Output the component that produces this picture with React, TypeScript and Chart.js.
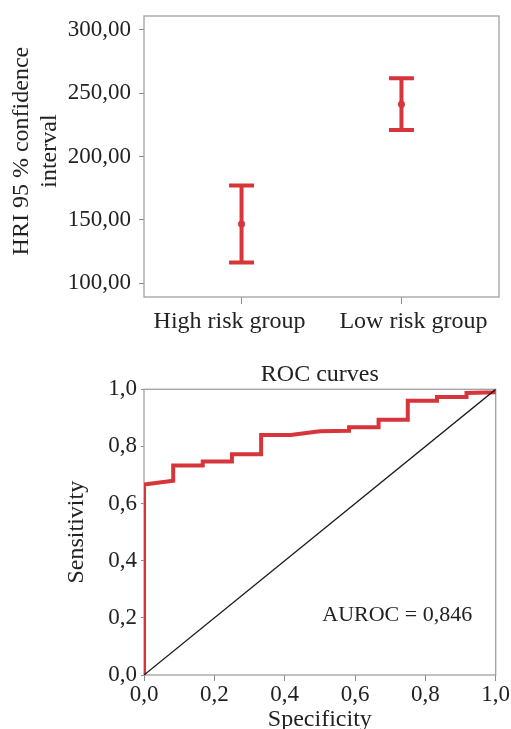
import React, { useEffect, useRef } from 'react';
import { Chart, registerables } from 'chart.js';

Chart.register(...registerables);

// ---- Data: HRI 95 % confidence interval ----
const groups = ['High risk group', 'Low risk group'];
const means = [146.8, 241.4];
const lowers = [116.4, 221.0];
const uppers = [177.2, 261.8];
const hriTicks = [100, 150, 200, 250, 300];

// ---- Data: ROC curve ----
const specificity = [0, 0, 0.083, 0.083, 0.167, 0.167, 0.25, 0.25, 0.333, 0.333, 0.417, 0.5, 0.583, 0.583, 0.667, 0.667, 0.75, 0.75, 0.833, 0.833, 0.917, 0.917, 1, 1];
const sensitivity = [0, 0.667, 0.68, 0.733, 0.733, 0.747, 0.747, 0.773, 0.773, 0.84, 0.84, 0.853, 0.855, 0.867, 0.867, 0.893, 0.893, 0.96, 0.96, 0.973, 0.973, 0.987, 0.99, 1];
const diagX = [0, 1];
const diagY = [0, 1];
const aurocText = 'AUROC = 0,846';
const aurocAnchor = { x: 0.72, y: 0.21 };

const SERIF = "'Liberation Serif', 'Times New Roman', serif";
const RED = '#d7353c';
const TEXT = '#222222';
const GRID = '#8c8c8c';
const FRAME = '#a0a0a0';
const NB = '\u00a0';

const framePlugin = {
  id: 'frame',
  beforeDatasetsDraw(chart: any) {
    const { ctx, chartArea: a } = chart;
    ctx.save();
    ctx.strokeStyle = FRAME;
    ctx.lineWidth = 1.3;
    ctx.strokeRect(a.left, a.top, a.right - a.left, a.bottom - a.top);
    ctx.restore();
  },
};

const errorBarPlugin = {
  id: 'errorBars',
  beforeDatasetsDraw(chart: any) {
    const { ctx, scales } = chart;
    const x = scales.x;
    const y = scales.y;
    ctx.save();
    ctx.strokeStyle = RED;
    ctx.lineWidth = 4;
    ctx.lineCap = 'butt';
    groups.forEach((_, i) => {
      const px = x.getPixelForValue(i);
      const top = y.getPixelForValue(uppers[i]);
      const bot = y.getPixelForValue(lowers[i]);
      const half = 12.5;
      ctx.beginPath();
      ctx.moveTo(px, top);
      ctx.lineTo(px, bot);
      ctx.moveTo(px - half, top);
      ctx.lineTo(px + half, top);
      ctx.moveTo(px - half, bot);
      ctx.lineTo(px + half, bot);
      ctx.stroke();
    });
    ctx.restore();
  },
};

const aurocPlugin = {
  id: 'auroc',
  afterDatasetsDraw(chart: any) {
    const { ctx, scales } = chart;
    ctx.save();
    ctx.fillStyle = TEXT;
    ctx.font = `22px ${SERIF}`;
    ctx.textAlign = 'center';
    ctx.textBaseline = 'middle';
    ctx.fillText(aurocText, scales.x.getPixelForValue(aurocAnchor.x), scales.y.getPixelForValue(aurocAnchor.y));
    ctx.restore();
  },
};

export default function App() {
  const ref1 = useRef<HTMLCanvasElement>(null);
  const ref2 = useRef<HTMLCanvasElement>(null);

  useEffect(() => {
    const c1 = new Chart(ref1.current as HTMLCanvasElement, {
      type: 'scatter',
      data: {
        datasets: [
          {
            data: groups.map((_, i) => ({ x: i, y: means[i] })),
            pointRadius: 3.5,
            backgroundColor: RED,
            borderWidth: 0,
            showLine: false,
          },
        ],
      },
      options: {
        responsive: true,
        maintainAspectRatio: false,
        animation: false,
        devicePixelRatio: 1,
        events: [],
        layout: { padding: { top: 16, right: 12, left: 0, bottom: 0 } },
        plugins: { legend: { display: false }, tooltip: { enabled: false } },
        scales: {
          x: {
            type: 'linear',
            min: -0.61,
            max: 1.61,
            afterBuildTicks: (s: any) => {
              s.ticks = groups.map((_, i) => ({ value: i }));
            },
            afterFit: (s: any) => {
              s.height = 48;
              s.paddingLeft = 0;
              s.paddingRight = 0;
            },
            ticks: {
              callback: (v: any) => {
                const i = Number(v);
                const pad = NB.repeat(4);
                return i === 0 ? groups[i] + pad : pad + groups[i];
              },
              font: { family: SERIF, size: 24 },
              color: TEXT,
              padding: 3,
              maxRotation: 0,
              autoSkip: false,
            },
            grid: { drawOnChartArea: false, drawTicks: true, tickLength: 7, color: GRID },
            border: { display: false },
          },
          y: {
            min: 89.2,
            max: 311,
            afterBuildTicks: (s: any) => {
              s.ticks = hriTicks.map((v) => ({ value: v }));
            },
            afterFit: (s: any) => {
              s.width = 144;
              s.paddingTop = 0;
              s.paddingBottom = 0;
            },
            ticks: {
              callback: (v: any) => Number(v).toFixed(2).replace('.', ','),
              font: { family: SERIF, size: 23 },
              color: TEXT,
              padding: 8,
            },
            grid: { drawOnChartArea: false, drawTicks: true, tickLength: 5, color: GRID },
            border: { display: false },
            title: {
              display: true,
              text: [NB + '\u2009HRI 95 % confidence', NB + '\u2009interval'],
              font: { family: SERIF, size: 24, lineHeight: 1.17 },
              color: TEXT,
              padding: { top: 8, bottom: 0 },
            },
          },
        },
      } as any,
      plugins: [framePlugin, errorBarPlugin],
    });

    const c2 = new Chart(ref2.current as HTMLCanvasElement, {
      type: 'scatter',
      data: {
        datasets: [
          {
            data: specificity.map((x, i) => ({ x, y: sensitivity[i] })),
            showLine: true,
            borderColor: RED,
            borderWidth: 4,
            pointRadius: 0,
            fill: false,
            tension: 0,
            order: 2,
          },
          {
            data: diagX.map((x, i) => ({ x, y: diagY[i] })),
            showLine: true,
            borderColor: '#1a1a1a',
            borderWidth: 1.3,
            pointRadius: 0,
            fill: false,
            order: 1,
          },
        ],
      },
      options: {
        responsive: true,
        maintainAspectRatio: false,
        animation: false,
        devicePixelRatio: 1,
        events: [],
        layout: { padding: { top: 0, right: 44.3, left: 0, bottom: 0 } },
        plugins: {
          legend: { display: false },
          tooltip: { enabled: false },
          title: {
            display: true,
            text: 'ROC curves',
            fullSize: false,
            font: { family: SERIF, size: 24, weight: 'normal', lineHeight: 1.15 },
            color: TEXT,
            padding: { top: 16, bottom: 0.7 },
          },
        },
        scales: {
          x: {
            type: 'linear',
            min: 0,
            max: 1,
            afterFit: (s: any) => {
              s.height = 70;
            },
            ticks: {
              stepSize: 0.2,
              callback: (v: any) => Number(v).toFixed(1).replace('.', ','),
              font: { family: SERIF, size: 23 },
              color: TEXT,
              padding: 0,
              maxRotation: 0,
            },
            grid: { drawOnChartArea: false, drawTicks: true, tickLength: 6, color: GRID },
            border: { display: false },
            title: {
              display: true,
              text: 'Specificity',
              font: { family: SERIF, size: 24, lineHeight: 1.1 },
              color: TEXT,
              padding: { top: 0, bottom: 12 },
            },
          },
          y: {
            min: 0,
            max: 1,
            afterFit: (s: any) => {
              s.width = 144;
            },
            ticks: {
              stepSize: 0.2,
              callback: (v: any) => Number(v).toFixed(1).replace('.', ','),
              font: { family: SERIF, size: 23 },
              color: TEXT,
              padding: 4,
            },
            grid: { drawOnChartArea: false, drawTicks: true, tickLength: 3, color: GRID },
            border: { display: false },
            title: {
              display: true,
              text: 'Sensitivity',
              font: { family: SERIF, size: 24, lineHeight: 1.1 },
              color: TEXT,
              padding: { top: 64, bottom: 0 },
            },
          },
        },
      } as any,
      plugins: [framePlugin, aurocPlugin],
    });

    return () => {
      c1.destroy();
      c2.destroy();
    };
  }, []);

  return (
    <div
      style={{
        position: 'fixed',
        left: 0,
        top: 0,
        width: 511,
        height: 729,
        overflow: 'hidden',
        background: '#ffffff',
      }}
    >
      <div style={{ position: 'absolute', left: 0, top: 0, width: 511, height: 345 }}>
        <canvas ref={ref1} />
      </div>
      <div style={{ position: 'absolute', left: 0, top: 345, width: 540, height: 400 }}>
        <canvas ref={ref2} />
      </div>
    </div>
  );
}
